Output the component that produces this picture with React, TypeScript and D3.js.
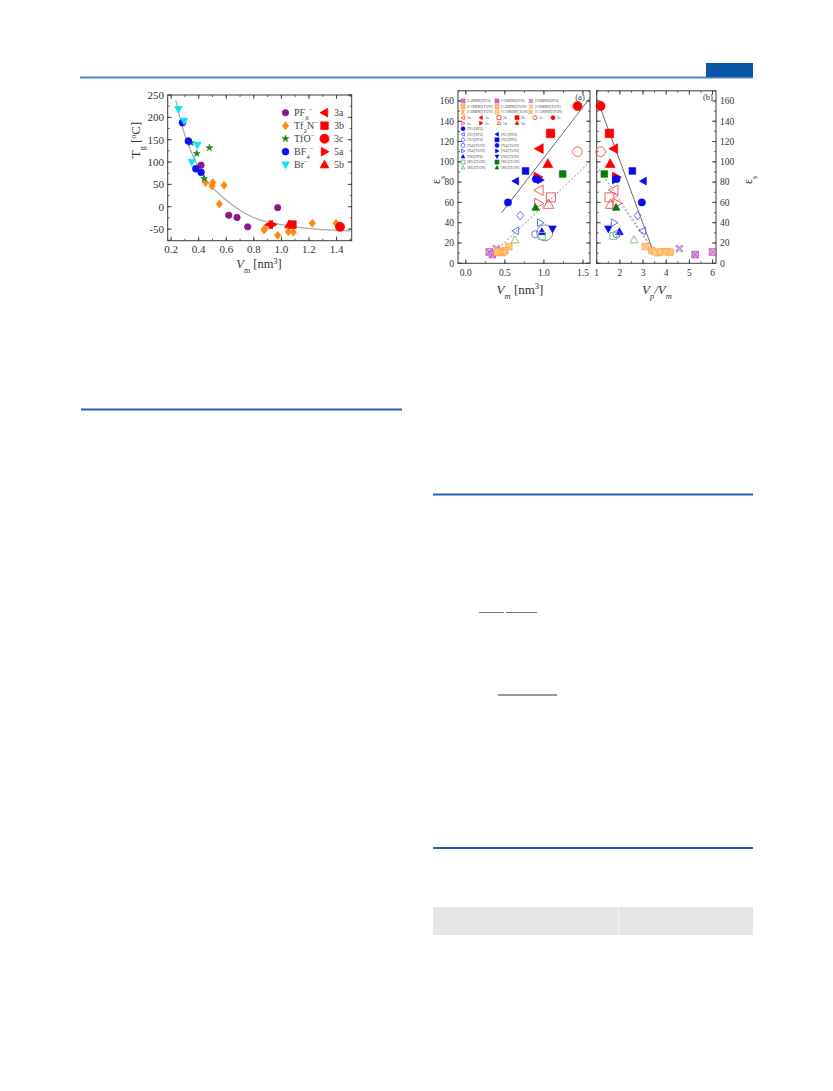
import React from 'react';
import * as d3 from 'd3';

// ---------------- Data: Tg vs Vm (left figure) ----------------
const tgCurveVm = [0.234, 0.27, 0.314, 0.38, 0.459, 0.55, 0.65, 0.77, 0.87, 1.0, 1.1, 1.25, 1.5];
const tgCurveTg = [238, 192, 147, 100, 57, 28, 3, -20, -32, -40, -45, -50, -54];

const pf6Vm = [0.417, 0.618, 0.678, 0.755, 0.973];
const pf6Tg = [93, -19, -24, -45, -2];
const tf2nVm = [0.449, 0.497, 0.502, 0.55, 0.584, 0.874, 0.88, 0.973, 1.05, 1.086, 1.224, 1.396];
const tf2nTg = [54, 46, 54, 6, 48, -52, -49, -64, -56, -57, -37, -37];
const tfoVm = [0.345, 0.386, 0.478, 0.44];
const tfoTg = [143, 119, 132, 63];
const bf4Vm = [0.282, 0.325, 0.379, 0.417];
const bf4Tg = [188, 147, 85, 77];
const brVm = [0.253, 0.294, 0.39, 0.35];
const brTg = [218, 192, 138, 100];
const ilCodes = ['3a', '3b', '3c', '5a', '5b'];
const ilVm = [0.912, 1.08, 1.425, 0.935, 1.055];
const ilTg = [-40, -40, -45, -40, -40];

const tgXTicks = [0.2, 0.4, 0.6, 0.8, 1.0, 1.2, 1.4];
const tgYTicks = [-50, 0, 50, 100, 150, 200, 250];

// ---------------- Data: eps_s vs Vm (a) and Vp/Vm (b) ----------------
const epsKeys = [
  'f3c', 'o3c', 'f3b', 'o3b', 'f3a', 'o3a', 'f5b', 'o5b', 'f5a', 'o5a',
  'bA', 'bB', 'bC', 'bD', 'bE', 'bF', 'bG',
  'bOA', 'bOB', 'bOD', 'bOE',
  'gA', 'gB', 'gOA', 'gOB',
  'p1', 'p2', 'p3',
  'oX', 'oS', 'oH', 'oD', 'oS2', 'oH2', 'oX', 'oS',
];
const epsVm = [
  1.43, 1.43, 1.085, 1.09, 0.944, 0.94, 1.05, 1.06, 0.92, 0.93,
  0.64, 0.765, 0.54, 0.897, 0.953, 0.974, 1.11,
  0.64, 0.697, 0.889, 0.953,
  1.24, 0.893, 0.974, 0.63,
  0.3, 0.34, 0.39,
  0.55, 0.5, 0.48, 0.46, 0.44, 0.43, 0.41, 0.4,
];
const epsVpVm = [
  1.17, 1.17, 1.55, 1.55, 1.75, 1.75, 1.58, 1.6, 1.84, 1.86,
  3.02, 2.54, 2.95, 1.86, 1.8, 1.98, 1.5,
  2.99, 2.77, 1.86, 1.75,
  1.33, 1.84, 1.72, 2.61,
  6.0, 5.25, 4.57,
  3.09, 3.38, 3.52, 3.64, 3.78, 3.91, 4.05, 4.17,
];
const epsValue = [
  155, 110, 128, 65, 113, 72, 98, 58, 85, 59,
  81, 91, 60, 83, 82, 31, 34,
  32, 47, 28.6, 40,
  88, 55, 27, 23,
  11.2, 8.6, 14.5,
  16.5, 12.5, 11, 10.5, 11.5, 11, 11.5, 11,
];

// guide lines
const aSolidVm = [0.46, 1.59];
const aSolidEps = [50, 163];
const aDashVm = [0.42, 1.59];
const aDashEps = [15, 100];
const bSolidV = [1.0, 3.42];
const bSolidEps = [163, 13];
const bDash1V = [1.0, 3.45];
const bDash1Eps = [96, 13];
const bDash2V = [1.6, 3.4];
const bDash2Eps = [72, 14];

const aXTicks = [0, 0.5, 1.0, 1.5];
const bXTicks = [1, 2, 3, 4, 5, 6];
const epsYTicks = [0, 20, 40, 60, 80, 100, 120, 140, 160];

// legend of panel (a): [styleKey, label]
const legendRowsA: [string, string][][] = [
  [['p1', '[C4MIM][PF6]'], ['p2', '[C6MIM][PF6]'], ['p3', '[C8MIM][PF6]']],
  [['oX', '[C2MIM][Tf2N]'], ['oS', '[C4MIM][Tf2N]'], ['oH', '[C6MIM][Tf2N]']],
  [['oD', '[C8MIM][Tf2N]'], ['oS2', '[C10MIM][Tf2N]'], ['oH2', '[C12MIM][Tf2N]']],
  [['o3a', '3a'], ['f3a', '3a'], ['o3b', '3b'], ['f3b', '3b'], ['o3c', '3c'], ['f3c', '3c']],
  [['o5a', '5a'], ['f5a', '5a'], ['o5b', '5b'], ['f5b', '5b']],
  [['bC', '[N1][BF4]']],
  [['bOA', '[N1][PF6]'], ['bA', '[N1][PF6]']],
  [['bOB', '[N2][PF6]'], ['bB', '[N2][PF6]']],
  [['bOD', '[N4][Tf2N]'], ['bD', '[N4][Tf2N]']],
  [['bOE', '[N4][Tf2N]'], ['bE', '[N4][Tf2N]']],
  [['bF', '[N6][PF6]'], ['bG', '[N6][Tf2N]']],
  [['gOA', '[M1][Tf2N]'], ['gA', '[M1][Tf2N]']],
  [['gOB', '[M2][Tf2N]'], ['gB', '[M2][Tf2N]']],
];

// ---------------- Styles ----------------
type Sty = { shape: string; color: string; fill: string; r: number };
const RED = '#ff0000';
const RED_O = '#ff5a5a';
const BLUE = '#0a0af0';
const BLUE_O = '#6b6bff';
const GREEN = '#0a7a0a';
const GREEN_O = '#7ac87a';
const PURPLE = '#b040b0';
const ORANGE = '#ffa040';
const epsStyle: Record<string, Sty> = {
  f3c: { shape: 'circle', color: RED, fill: RED, r: 4.5 },
  o3c: { shape: 'circle', color: RED_O, fill: 'none', r: 4.8 },
  f3b: { shape: 'square', color: RED, fill: RED, r: 4.2 },
  o3b: { shape: 'square', color: RED_O, fill: 'none', r: 4.5 },
  f3a: { shape: 'triL', color: RED, fill: RED, r: 5.2 },
  o3a: { shape: 'triL', color: RED_O, fill: 'none', r: 5.5 },
  f5b: { shape: 'triU', color: RED, fill: RED, r: 5.2 },
  o5b: { shape: 'triU', color: RED_O, fill: 'none', r: 5.5 },
  f5a: { shape: 'triR', color: RED, fill: RED, r: 5.2 },
  o5a: { shape: 'triR', color: RED_O, fill: 'none', r: 5.5 },
  bA: { shape: 'triL', color: BLUE, fill: BLUE, r: 4 },
  bB: { shape: 'square', color: BLUE, fill: BLUE, r: 3.3 },
  bC: { shape: 'circle', color: BLUE, fill: BLUE, r: 3.6 },
  bD: { shape: 'circle', color: BLUE, fill: BLUE, r: 3.6 },
  bE: { shape: 'triR', color: BLUE, fill: BLUE, r: 4 },
  bF: { shape: 'triU', color: BLUE, fill: BLUE, r: 4 },
  bG: { shape: 'triD', color: BLUE, fill: BLUE, r: 4 },
  bOA: { shape: 'triL', color: BLUE_O, fill: 'none', r: 4 },
  bOB: { shape: 'diamond', color: BLUE_O, fill: 'none', r: 3.5 },
  bOD: { shape: 'circle', color: BLUE_O, fill: 'none', r: 3.6 },
  bOE: { shape: 'triR', color: BLUE_O, fill: 'none', r: 4 },
  gA: { shape: 'square', color: GREEN, fill: GREEN, r: 3.3 },
  gB: { shape: 'triU', color: GREEN, fill: GREEN, r: 4 },
  gOA: { shape: 'square', color: GREEN_O, fill: 'none', r: 3.5 },
  gOB: { shape: 'triU', color: GREEN_O, fill: 'none', r: 4.2 },
  p1: { shape: 'xbox', color: PURPLE, fill: '#e2b6e2', r: 3.3 },
  p2: { shape: 'xbox', color: PURPLE, fill: '#d89ad8', r: 3.3 },
  p3: { shape: 'xcross', color: PURPLE, fill: '#e2b6e2', r: 3.6 },
  oX: { shape: 'xbox', color: ORANGE, fill: '#ffd49a', r: 3.3 },
  oS: { shape: 'square', color: ORANGE, fill: '#ffc070', r: 3.2 },
  oH: { shape: 'xcross', color: ORANGE, fill: '#ffd49a', r: 3.6 },
  oD: { shape: 'hourglass', color: ORANGE, fill: '#ffc070', r: 3.4 },
  oS2: { shape: 'square', color: ORANGE, fill: '#ffd49a', r: 3.2 },
  oH2: { shape: 'xcross', color: ORANGE, fill: '#ffc070', r: 3.6 },
};

function markerPath(shape: string, r: number): string {
  switch (shape) {
    case 'circle':
      return `M${r},0A${r},${r} 0 1,1 ${-r},0A${r},${r} 0 1,1 ${r},0Z`;
    case 'square':
      return `M${-r},${-r}H${r}V${r}H${-r}Z`;
    case 'diamond':
      return `M0,${-r * 1.25}L${r},0L0,${r * 1.25}L${-r},0Z`;
    case 'star':
      return d3.symbol(d3.symbolStar, r * r * 1.12)() || '';
    case 'triU':
      return `M0,${-r}L${r * 0.95},${r * 0.7}L${-r * 0.95},${r * 0.7}Z`;
    case 'triD':
      return `M0,${r}L${r * 0.95},${-r * 0.7}L${-r * 0.95},${-r * 0.7}Z`;
    case 'triL':
      return `M${-r},0L${r * 0.7},${-r * 0.95}L${r * 0.7},${r * 0.95}Z`;
    case 'triR':
      return `M${r},0L${-r * 0.7},${-r * 0.95}L${-r * 0.7},${r * 0.95}Z`;
    case 'xbox':
      return `M${-r},${-r}H${r}V${r}H${-r}Z M${-r},${-r}L${r},${r} M${r},${-r}L${-r},${r}`;
    case 'hourglass':
      return `M${-r},${-r}L${r},${-r}L${-r},${r}L${r},${r}Z`;
    case 'xcross': {
      const a = r * 0.35;
      return `M${-r},${-r + a}L${-r + a},${-r}L0,${-a}L${r - a},${-r}L${r},${-r + a}L${a},0L${r},${r - a}L${r - a},${r}L0,${a}L${-r + a},${r}L${-r},${r - a}L${-a},0Z`;
    }
    default:
      return '';
  }
}

function Marker({ x, y, s }: { x: number; y: number; s: Sty }) {
  return (
    <path
      d={markerPath(s.shape, s.r)}
      transform={`translate(${x},${y})`}
      fill={s.fill}
      stroke={s.color}
      strokeWidth={s.fill === 'none' ? 1 : 0.7}
      strokeLinejoin="round"
    />
  );
}

const FONT = '"Liberation Serif", "DejaVu Serif", serif';
const AXIS = '#3a3a3a';

type Sc = d3.ScaleLinear<number, number>;

function Frame({
  sx, sy, xMajor, xMinor, yMajor, yMinor, fmtX, fmtY, fs, yLabelRight, xLabelY, yLabelX,
}: {
  sx: Sc; sy: Sc; xMajor: number[]; xMinor: number[]; yMajor: number[]; yMinor: number[];
  fmtX: (v: number) => string; fmtY: (v: number) => string; fs: number; yLabelRight?: boolean;
  xLabelY: number; yLabelX: number;
}) {
  const [x0, x1] = sx.range();
  const [y0, y1] = sy.range(); // y0 bottom, y1 top
  const maj = 4;
  const min = 2;
  return (
    <g>
      <rect x={x0} y={y1} width={x1 - x0} height={y0 - y1} fill="none" stroke={AXIS} strokeWidth={1} />
      {xMinor.map((v, i) => (
        <g key={'xm' + i}>
          <line x1={sx(v)} x2={sx(v)} y1={y0} y2={y0 - min} stroke={AXIS} strokeWidth={0.8} />
          <line x1={sx(v)} x2={sx(v)} y1={y1} y2={y1 + min} stroke={AXIS} strokeWidth={0.8} />
        </g>
      ))}
      {xMajor.map((v, i) => (
        <g key={'xM' + i}>
          <line x1={sx(v)} x2={sx(v)} y1={y0} y2={y0 - maj} stroke={AXIS} strokeWidth={0.9} />
          <line x1={sx(v)} x2={sx(v)} y1={y1} y2={y1 + maj} stroke={AXIS} strokeWidth={0.9} />
          <text x={sx(v)} y={xLabelY} fontSize={fs} textAnchor="middle" fill="#333" fontFamily={FONT}>
            {fmtX(v)}
          </text>
        </g>
      ))}
      {yMinor.map((v, i) => (
        <g key={'ym' + i}>
          <line x1={x0} x2={x0 + min} y1={sy(v)} y2={sy(v)} stroke={AXIS} strokeWidth={0.8} />
          <line x1={x1} x2={x1 - min} y1={sy(v)} y2={sy(v)} stroke={AXIS} strokeWidth={0.8} />
        </g>
      ))}
      {yMajor.map((v, i) => (
        <g key={'yM' + i}>
          <line x1={x0} x2={x0 + maj} y1={sy(v)} y2={sy(v)} stroke={AXIS} strokeWidth={0.9} />
          <line x1={x1} x2={x1 - maj} y1={sy(v)} y2={sy(v)} stroke={AXIS} strokeWidth={0.9} />
          <text
            x={yLabelX}
            y={sy(v) + fs * 0.35}
            fontSize={fs}
            textAnchor={yLabelRight ? 'start' : 'end'}
            fill="#333"
            fontFamily={FONT}
          >
            {fmtY(v)}
          </text>
        </g>
      ))}
    </g>
  );
}

function TgChart() {
  const sx = d3.scaleLinear().domain([0.175, 1.51]).range([167.7, 351.7]);
  const sy = d3.scaleLinear().domain([-76, 250]).range([240.7, 95]);
  const line = d3
    .line<number>()
    .x((_, i) => sx(tgCurveVm[i]))
    .y((d) => sy(d))
    .curve(d3.curveCatmullRom.alpha(0.5));
  const xMinor = d3.range(0.2, 1.51, 0.1);
  const yMinor = d3.range(-75, 251, 25);
  const sPF6: Sty = { shape: 'circle', color: '#8a1a8a', fill: '#8a1a8a', r: 3.2 };
  const sTf2N: Sty = { shape: 'diamond', color: '#ff8a10', fill: '#ff8a10', r: 3.2 };
  const sTfO: Sty = { shape: 'star', color: '#208a20', fill: '#208a20', r: 3.6 };
  const sBF4: Sty = { shape: 'circle', color: '#1010f0', fill: '#1010f0', r: 3.4 };
  const sBr: Sty = { shape: 'triD', color: '#10e0ff', fill: '#10e0ff', r: 4.0 };
  const ilShapes: Record<string, string> = { '3a': 'triL', '3b': 'square', '3c': 'circle', '5a': 'triR', '5b': 'triU' };
  const ilSty = (c: string): Sty => ({ shape: ilShapes[c], color: RED, fill: RED, r: c === '3b' ? 3.8 : 4.6 });
  const legLeft: [Sty, React.ReactNode][] = [
    [sPF6, <>PF<tspan baselineShift="sub" fontSize={7}>6</tspan><tspan baselineShift="super" fontSize={7}>−</tspan></>],
    [sTf2N, <>Tf<tspan baselineShift="sub" fontSize={7}>2</tspan>N<tspan baselineShift="super" fontSize={7}>−</tspan></>],
    [sTfO, <>TfO<tspan baselineShift="super" fontSize={7}>−</tspan></>],
    [sBF4, <>BF<tspan baselineShift="sub" fontSize={7}>4</tspan><tspan baselineShift="super" fontSize={7}>−</tspan></>],
    [sBr, <>Br<tspan baselineShift="super" fontSize={7}>−</tspan></>],
  ];
  const groups: [number[], number[], Sty][] = [
    [tf2nVm, tf2nTg, sTf2N],
    [pf6Vm, pf6Tg, sPF6],
    [tfoVm, tfoTg, sTfO],
    [bf4Vm, bf4Tg, sBF4],
    [brVm, brTg, sBr],
  ];
  return (
    <g>
      <Frame
        sx={sx}
        sy={sy}
        xMajor={tgXTicks}
        xMinor={xMinor}
        yMajor={tgYTicks}
        yMinor={yMinor}
        fmtX={(v) => v.toFixed(1)}
        fmtY={(v) => String(v)}
        fs={11}
        xLabelY={253}
        yLabelX={164}
      />
      <path d={line(tgCurveTg) || ''} fill="none" stroke="#a8a8a8" strokeWidth={1.2} />
      {groups.map(([xs, ys, s], gi) => (
        <g key={gi}>
          {xs.map((v, i) => (
            <Marker key={i} x={sx(v)} y={sy(ys[i])} s={s} />
          ))}
        </g>
      ))}
      {ilCodes.map((c, i) => (
        <Marker key={c} x={sx(ilVm[i])} y={sy(ilTg[i])} s={ilSty(c)} />
      ))}
      {legLeft.map(([s, lab], i) => (
        <g key={'ll' + i}>
          <Marker x={285.5} y={112.7 + i * 13} s={s} />
          <text x={294} y={116 + i * 13} fontSize={10} fill="#444" fontFamily={FONT}>
            {lab}
          </text>
        </g>
      ))}
      {ilCodes.map((c, i) => (
        <g key={'lr' + c}>
          <Marker x={324.5} y={112.7 + i * 13} s={ilSty(c)} />
          <text x={334} y={116 + i * 13} fontSize={10} fill="#444" fontFamily={FONT}>
            {c}
          </text>
        </g>
      ))}
      <text x={259} y={268} fontSize={12.5} textAnchor="middle" fill="#333" fontFamily={FONT}>
        <tspan fontStyle="italic">V</tspan>
        <tspan baselineShift="sub" fontSize={8}>m</tspan>
        <tspan> [nm</tspan>
        <tspan baselineShift="super" fontSize={8}>3</tspan>
        <tspan>]</tspan>
      </text>
      <text transform="translate(140,140) rotate(-90)" fontSize={13} textAnchor="middle" fill="#333" fontFamily={FONT}>
        <tspan>T</tspan>
        <tspan baselineShift="sub" fontSize={8}>g</tspan>
        <tspan> [</tspan>
        <tspan baselineShift="super" fontSize={8}>o</tspan>
        <tspan>C]</tspan>
      </text>
    </g>
  );
}

function EpsCharts() {
  const sxa = d3.scaleLinear().domain([-0.1, 1.59]).range([458, 590]);
  const sxb = d3.scaleLinear().domain([1, 6.15]).range([596.7, 716]);
  const sy = d3.scaleLinear().domain([0, 170]).range([263.3, 90.8]);
  const aXMinor = d3.range(0, 1.59, 0.25);
  const bXMinor = d3.range(1, 6.15, 0.5);
  const yMinor = d3.range(0, 171, 10);
  const seg = (sx: Sc, xs: number[], ys: number[]) =>
    d3
      .line<number>()
      .x((_, i) => sx(xs[i]))
      .y((d) => sy(d))(ys) || '';
  const rowY = (i: number) => 101 + i * 5.55;
  return (
    <g>
      {/* panel (a) */}
      <Frame
        sx={sxa}
        sy={sy}
        xMajor={aXTicks}
        xMinor={aXMinor}
        yMajor={epsYTicks}
        yMinor={yMinor}
        fmtX={(v) => v.toFixed(1)}
        fmtY={(v) => String(v)}
        fs={9.5}
        xLabelY={276}
        yLabelX={454}
      />
      <path d={seg(sxa, aSolidVm, aSolidEps)} stroke="#6a6a6a" strokeWidth={1} fill="none" />
      <path d={seg(sxa, aDashVm, aDashEps)} stroke="#7a7a7a" strokeWidth={0.9} strokeDasharray="2,2" fill="none" />
      <circle cx={sxa(1.01)} cy={sy(30)} r={8} fill="none" stroke="#555" strokeWidth={0.7} />
      {epsKeys.map((k, i) => (
        <Marker key={'a' + i} x={sxa(epsVm[i])} y={sy(epsValue[i])} s={epsStyle[k]} />
      ))}
      {legendRowsA.map((row, ri) => (
        <g key={'lg' + ri}>
          {row.map(([k, lab], ci) => {
            const pitch = row.length > 3 ? 18 : 34;
            const x = 463 + ci * pitch;
            const s = { ...epsStyle[k], r: 2 };
            return (
              <g key={ci}>
                <Marker x={x} y={rowY(ri)} s={s} />
                <text x={x + 4} y={rowY(ri) + 1.3} fontSize={3.8} fill="#555" fontFamily={FONT}>
                  {lab}
                </text>
              </g>
            );
          })}
        </g>
      ))}
      <text x={580} y={100} fontSize={8.5} textAnchor="middle" fill="#333" fontFamily={FONT}>(a)</text>
      <text x={520} y={294} fontSize={13} textAnchor="middle" fill="#333" fontFamily={FONT}>
        <tspan fontStyle="italic">V</tspan>
        <tspan baselineShift="sub" fontSize={8.5} fontStyle="italic">m</tspan>
        <tspan> [nm</tspan>
        <tspan baselineShift="super" fontSize={8.5}>3</tspan>
        <tspan>]</tspan>
      </text>
      <text transform="translate(440,180) rotate(-90)" fontSize={12} textAnchor="middle" fill="#333" fontFamily={FONT}>
        <tspan>ε</tspan>
        <tspan baselineShift="sub" fontSize={8}>s</tspan>
      </text>

      {/* panel (b) */}
      <Frame
        sx={sxb}
        sy={sy}
        xMajor={bXTicks}
        xMinor={bXMinor}
        yMajor={epsYTicks}
        yMinor={yMinor}
        fmtX={(v) => String(v)}
        fmtY={(v) => String(v)}
        fs={9.5}
        yLabelRight
        xLabelY={276}
        yLabelX={720}
      />
      <path d={seg(sxb, bSolidV, bSolidEps)} stroke="#6a6a6a" strokeWidth={1} fill="none" />
      <path d={seg(sxb, bDash1V, bDash1Eps)} stroke="#7a7a7a" strokeWidth={0.9} strokeDasharray="2,2" fill="none" />
      <path d={seg(sxb, bDash2V, bDash2Eps)} stroke="#9a9a9a" strokeWidth={0.8} strokeDasharray="2,2" fill="none" />
      {epsKeys.map((k, i) => (
        <Marker key={'b' + i} x={sxb(epsVpVm[i])} y={sy(epsValue[i])} s={epsStyle[k]} />
      ))}
      <text x={708} y={100} fontSize={8.5} textAnchor="middle" fill="#333" fontFamily={FONT}>(b)</text>
      <text x={657} y={294} fontSize={13} textAnchor="middle" fill="#333" fontFamily={FONT}>
        <tspan fontStyle="italic">V</tspan>
        <tspan baselineShift="sub" fontSize={8.5} fontStyle="italic">p</tspan>
        <tspan fontStyle="italic">/V</tspan>
        <tspan baselineShift="sub" fontSize={8.5} fontStyle="italic">m</tspan>
      </text>
      <text transform="translate(752,180) rotate(-90)" fontSize={12} textAnchor="middle" fill="#333" fontFamily={FONT}>
        <tspan>ε</tspan>
        <tspan baselineShift="sub" fontSize={8}>s</tspan>
      </text>
    </g>
  );
}

function PageDecor() {
  const BL = '#2260b0';
  return (
    <g>
      <line x1={80} x2={753} y1={77.5} y2={77.5} stroke="#4f86c8" strokeWidth={2} />
      <rect x={706} y={63} width={47} height={14} fill="#0a55a8" />
      <line x1={81} x2={402} y1={409.5} y2={409.5} stroke={BL} strokeWidth={2.2} />
      <line x1={433} x2={753} y1={494.5} y2={494.5} stroke={BL} strokeWidth={2.2} />
      <line x1={433} x2={753} y1={848} y2={848} stroke={BL} strokeWidth={2.2} />
      <rect x={433} y={907} width={320} height={28} fill="#e6e6e6" />
      <line x1={618.5} x2={618.5} y1={907} y2={935} stroke="#f4f4f4" strokeWidth={1} />
      <line x1={479} x2={504} y1={612.5} y2={612.5} stroke="#777" strokeWidth={1} />
      <line x1={506} x2={537} y1={612.5} y2={612.5} stroke="#777" strokeWidth={1} />
      <line x1={498} x2={557} y1={695} y2={695} stroke="#333" strokeWidth={1} />
    </g>
  );
}

export default function App() {
  return (
    <svg
      width={833}
      height={1091}
      viewBox="0 0 833 1091"
      style={{ position: 'absolute', left: 0, top: 0, background: '#fff' }}
    >
      <rect x={0} y={0} width={833} height={1091} fill="#fff" />
      <PageDecor />
      <TgChart />
      <EpsCharts />
    </svg>
  );
}
